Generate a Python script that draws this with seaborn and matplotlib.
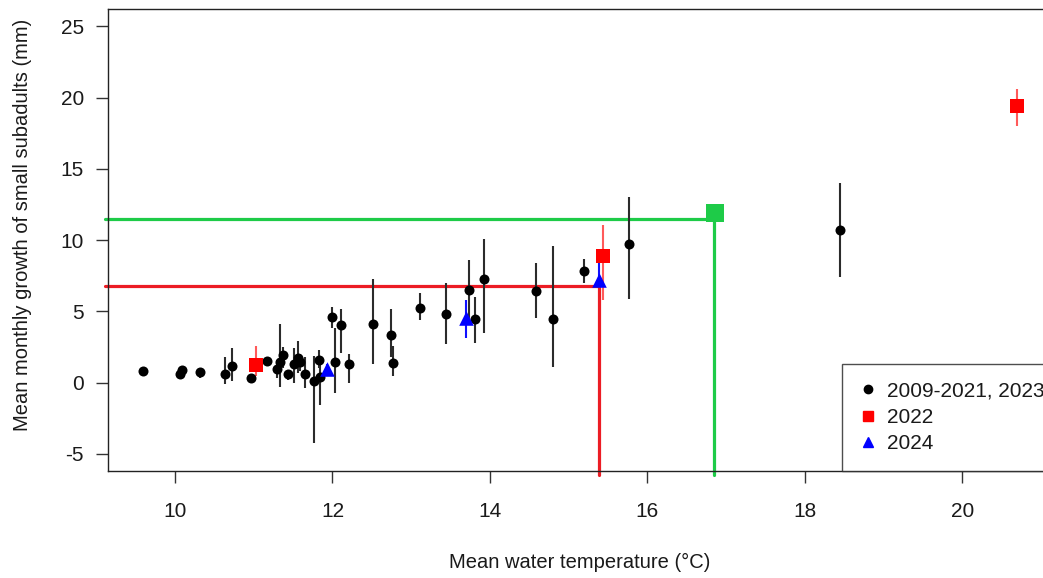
import numpy as np
import matplotlib
matplotlib.use("Agg")
import matplotlib.pyplot as plt
import seaborn as sns
from matplotlib.lines import Line2D

# 2009-2021, 2023
base_temp = [9.59, 10.06, 10.09, 10.32, 10.63, 10.72, 10.96, 11.17, 11.29, 11.33,
             11.37, 11.43, 11.51, 11.56, 11.59, 11.65, 11.77, 11.83, 11.84, 11.99,
             12.03, 12.11, 12.21, 12.52, 12.74, 12.77, 13.11, 13.44, 13.74, 13.81,
             13.93, 14.58, 14.80, 15.20, 15.77, 18.45]
base_growth = [0.81, 0.63, 0.86, 0.74, 0.58, 1.14, 0.34, 1.51, 0.95, 1.44,
               1.96, 0.58, 1.28, 1.75, 1.44, 0.58, 0.08, 1.61, 0.39, 4.61,
               1.44, 4.03, 1.33, 4.10, 3.32, 1.37, 5.24, 4.80, 6.49, 4.43,
               7.26, 6.44, 4.43, 7.85, 9.70, 10.71]
base_lo = [0.81, 0.63, 0.86, 0.30, -0.07, 0.14, 0.34, 1.51, 0.30, -0.30,
           1.00, 0.20, 0.00, 0.70, 0.80, -0.40, -4.20, 1.00, -1.60, 3.80,
           -0.70, 2.10, 0.00, 1.30, 1.80, 0.50, 4.40, 2.70, 4.50, 2.80,
           3.50, 4.50, 1.10, 7.00, 5.90, 7.40]
base_hi = [0.81, 0.63, 0.86, 1.00, 1.83, 2.40, 0.34, 1.51, 1.60, 4.10,
           2.50, 0.90, 2.40, 2.90, 2.00, 1.80, 1.90, 2.30, 1.30, 5.30,
           3.80, 5.20, 2.00, 7.30, 5.20, 2.60, 6.30, 7.00, 8.60, 6.00,
           10.10, 8.40, 9.60, 8.70, 13.05, 14.00]

# 2022
y22_temp = [11.03, 15.44, 20.70]
y22_growth = [1.21, 8.88, 19.39]
y22_lo = [0.50, 5.77, 18.00]
y22_hi = [2.60, 11.05, 20.60]

# 2024
y24_temp = [11.93, 13.70, 15.39]
y24_growth = [0.98, 4.55, 7.19]
y24_lo = [0.70, 3.10, 6.90]
y24_hi = [1.30, 5.80, 8.90]

# highlighted point and reference lines
green_temp = [16.86]
green_growth = [11.89]
ref_temp = [15.38, 16.85]
ref_growth = [6.77, 11.48]
ref_colors = ["#ec1c24", "#1ecb48"]

sns.set_style("ticks")
plt.rcParams["font.family"] = ["Liberation Sans", "DejaVu Sans"]
plt.rcParams["axes.unicode_minus"] = False

fig = plt.figure(figsize=(10.43, 5.78), dpi=100)
ax = fig.add_axes([0.1038, 0.1851, 0.9048, 0.7990])

xlim = (9.152, 21.14)
ylim = (-6.2, 26.2)

# reference lines (drawn past the box like R's xpd)
for t, g, c in zip(ref_temp, ref_growth, ref_colors):
    ax.plot([xlim[0] - 0.04, t], [g, g], color=c, lw=2.3, clip_on=False, zorder=1)
    ax.plot([t, t], [g, ylim[0] - 0.3], color=c, lw=2.3, clip_on=False, zorder=1)


def bars(x, y, lo, hi, color, lw):
    y = np.array(y)
    err = [y - np.array(lo), np.array(hi) - y]
    ax.errorbar(x, y, yerr=err, fmt="none", ecolor=color, elinewidth=lw,
                capsize=0, zorder=2)


bars(base_temp, base_growth, base_lo, base_hi, "#2b2b2b", 1.5)
bars(y22_temp, y22_growth, y22_lo, y22_hi, "#ff5a5a", 1.5)
bars(y24_temp, y24_growth, y24_lo, y24_hi, "#1010ff", 1.5)

sns.scatterplot(x=base_temp, y=base_growth, marker="o", s=52, color="black",
                linewidth=0, ax=ax, zorder=3)
sns.scatterplot(x=y22_temp, y=y22_growth, marker="s", s=100, color="#ff0000",
                linewidth=0, ax=ax, zorder=3)
sns.scatterplot(x=y24_temp, y=y24_growth, marker="^", s=110, color="#0000ff",
                linewidth=0, ax=ax, zorder=3)
sns.scatterplot(x=green_temp, y=green_growth, marker="s", s=150, color="#1ecb48",
                linewidth=0, ax=ax, zorder=3)

ax.set_xlim(*xlim)
ax.set_ylim(*ylim)
ax.set_xticks([10, 12, 14, 16, 18, 20])
ax.set_yticks([-5, 0, 5, 10, 15, 20, 25])
ax.tick_params(axis="both", direction="out", length=8.5, width=1.0,
               color="#333333", labelsize=15, labelcolor="#1a1a1a")
ax.tick_params(axis="x", pad=14)
ax.tick_params(axis="y", pad=9)

for sp in ax.spines.values():
    sp.set_visible(True)
    sp.set_color("#222222")
    sp.set_linewidth(1.0)

ax.set_xlabel("Mean water temperature (°C)", fontsize=14.5, color="#1a1a1a",
              va="center")
ax.set_ylabel("Mean monthly growth of small subadults (mm)", fontsize=14.5,
              color="#1a1a1a", va="center")
ax.xaxis.set_label_coords(0.5, -0.199)
ax.yaxis.set_label_coords(-0.0904, 0.534)

handles = [
    Line2D([], [], marker="o", color="black", linestyle="none", markersize=6),
    Line2D([], [], marker="s", color="#ff0000", linestyle="none", markersize=7),
    Line2D([], [], marker="^", color="#0000ff", linestyle="none", markersize=7.5),
]
leg = ax.legend(handles, ["2009-2021, 2023", "2022", "2024"],
                loc="lower left", bbox_to_anchor=(0.7775, 0.0),
                borderaxespad=0, fontsize=15, frameon=True, fancybox=False,
                edgecolor="#222222", handlelength=0.8, handletextpad=0.5,
                labelspacing=0.36, borderpad=0.85)
leg.get_frame().set_linewidth(1.0)
for t in leg.get_texts():
    t.set_color("#1a1a1a")

fig.savefig("out.png", dpi=100)
